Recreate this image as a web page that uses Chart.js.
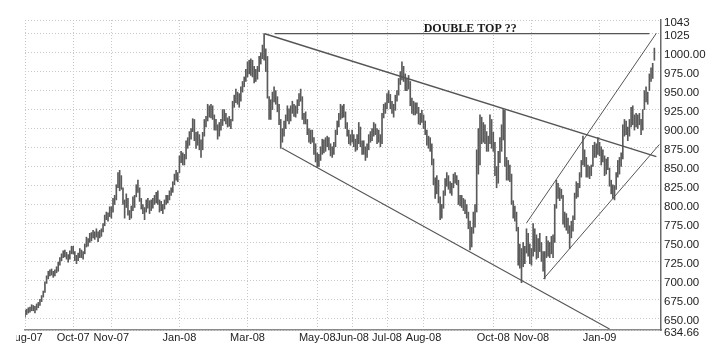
<!DOCTYPE html>
<html><head><meta charset="utf-8">
<script src="https://cdn.jsdelivr.net/npm/chart.js@4.4.1/dist/chart.umd.min.js"></script>
<style>html,body{margin:0;padding:0;background:#fff;overflow:hidden}</style>
</head><body>
<canvas id="c" width="720" height="358"></canvas>
<script>
// Daily highs / lows, one per trading day from Aug-20-2007 (index 0) to Feb-20-2009 (index 379)
const highs = [
661,662,664,665,668,667,666,669,671,675,
680,686,698,706,712,714,715,712,714,718,724,730,735,739,740,737,734,739,745,
745,738,733,736,742,740,738,748,757,755,762,763,766,764,768,764,766,768,775,786,790,789,797,
797,808,812,826,842,845,838,822,806,814,808,792,798,810,812,826,832,822,808,800,796,
806,808,805,806,808,812,816,818,806,804,800,806,812,812,818,822,830,840,845,842,
864,870,868,866,884,888,896,900,913,912,895,896,892,885,895,912,916,932,930,932,930,
918,912,905,908,912,925,925,920,914,916,912,936,944,952,948,946,955,962,968,978,
988,990,992,990,982,978,982,995,1000,1010,1025,1005,995,942,938,948,955,950,942,932,
912,900,910,918,930,926,930,936,932,930,938,946,952,942,920,922,912,900,898,898,888,880,
868,866,876,886,885,888,890,888,880,876,882,898,910,920,932,930,932,922,908,898,892,
898,892,886,892,908,902,884,884,876,880,892,896,900,908,906,900,898,892,920,932,934,
946,950,945,936,932,944,950,966,975,988,982,972,966,970,962,940,936,934,934,928,920,924,
918,910,898,890,888,880,860,835,838,832,810,800,818,834,842,838,830,828,840,842,838,
832,812,812,808,806,800,790,778,770,790,800,872,900,918,915,908,905,896,890,918,912,
895,882,850,870,888,905,925,924,862,858,852,840,805,798,790,770,748,742,750,745,768,762,748,
742,775,768,760,755,762,750,738,738,758,752,750,758,760,800,832,828,822,820,
812,790,788,782,772,778,785,815,830,828,842,858,890,872,862,852,850,852,878,882,880,888,
882,876,872,864,860,862,848,832,826,825,842,858,862,868,905,912,910,902,912,928,
930,918,920,918,920,912,925,950,955,948,972,980,986,1006
];
const lows = [
652,655,657,658,660,660,657,661,664,667,
672,678,684,696,702,706,707,704,706,710,712,720,726,730,731,728,724,728,735,
735,726,722,726,730,730,728,735,744,745,750,752,756,754,757,751,756,758,764,772,780,778,784,
782,790,800,806,822,818,820,800,782,796,786,780,782,792,796,810,816,804,794,788,780,
790,795,788,792,795,800,802,800,790,792,788,794,800,802,806,812,816,826,832,830,
842,855,852,852,860,874,878,886,896,884,874,878,872,862,872,890,902,910,915,914,912,
898,898,886,890,898,904,910,906,902,903,900,910,928,934,932,928,936,948,955,962,
968,972,970,968,960,962,965,975,985,992,990,975,940,912,912,925,935,932,922,905,
874,882,890,900,910,906,910,920,916,915,920,930,936,912,906,906,892,882,880,882,866,856,
849,850,858,866,868,870,876,872,864,862,866,876,892,902,912,914,915,900,890,880,878,
882,876,870,872,880,876,866,866,858,862,872,882,884,890,892,880,882,876,880,914,920,
926,934,926,920,915,924,936,944,958,964,962,950,950,952,930,920,918,918,920,906,905,908,
900,892,878,874,870,852,826,808,814,802,780,782,795,812,824,820,815,812,822,828,826,
800,798,796,792,788,782,768,740,744,762,770,790,840,852,880,882,880,870,870,880,874,
870,838,822,828,855,870,885,850,832,832,830,800,782,778,765,720,716,697,718,722,736,732,722,
720,732,738,728,730,738,725,712,702,730,732,730,735,730,750,795,808,805,808,
774,770,766,762,742,756,765,780,808,810,822,836,852,850,836,836,834,838,850,862,862,866,
864,852,856,838,840,846,824,814,808,806,820,836,840,850,860,890,892,884,890,902,
905,898,902,900,905,892,898,925,935,932,950,962,966,990
];

// Month gridlines: trading-day index and label
const xTickIdx = [0, 29, 52, 93, 134, 176, 197, 218, 240, 282, 305, 346];
const xTickLabels = ['Aug-07','Oct-07','Nov-07','Jan-08','Mar-08','May-08','Jun-08','Jul-08','Aug-08','Oct-08','Nov-08','Jan-09'];

// Price axis ticks
const yTickValues = [634.66,650,675,700,725,750,775,800,825,850,875,900,925,950,975,1000,1025,1043];
const yTickLabels = ['634.66','650.00','675.00','700.00','725.00','750.00','775.00','800.00','825.00','850.00','875.00','900.00','925.00','950.00','975.00','1000.00','1025','1043'];

// Hand-drawn trend lines (trading-day index, price)
const lineDoubleTop    = [[150.4, 1025], [376, 1025]];
const lineUpperDesc    = [[144.4, 1025], [380.2, 863]];
const lineLowerDesc    = [[154.6, 874.4], [352, 636]];
const lineChannelTop   = [[302, 775.6], [380.2, 1025.5]];
const lineChannelBot   = [[312.2, 701.8], [382, 879]];

const chartTitle = 'DOUBLE TOP ??';

const FONT = 'Liberation Sans, Arial, sans-serif';

const trendSets = [
  {pts: lineDoubleTop, w: 1.4},
  {pts: lineUpperDesc, w: 1.5},
  {pts: lineLowerDesc, w: 1.1},
  {pts: lineChannelTop, w: 1},
  {pts: lineChannelBot, w: 1}
];

const deco = {
  id: 'deco',
  afterDraw(chart) {
    const {ctx, chartArea} = chart;
    ctx.save();
    // clip of the first month label at the canvas edge, as in the source
    ctx.fillStyle = '#fff';
    ctx.fillRect(0, chartArea.bottom + 1, 16, 27);
    ctx.fillStyle = '#1a1a1a';
    ctx.font = 'bold 12px "Liberation Serif", "Times New Roman", serif';
    ctx.textAlign = 'center';
    ctx.textBaseline = 'alphabetic';
    const x = chartArea.left + (chartArea.right - chartArea.left) * 0.70;
    ctx.fillText(chartTitle, x, chartArea.top + 12);
    ctx.restore();
  }
};

new Chart(document.getElementById('c').getContext('2d'), {
  type: 'bar',
  data: {
    datasets: [
      {
        type: 'bar',
        data: highs.map((h, i) => ({x: i, y: [lows[i], h]})),
        backgroundColor: '#5a5a5a',
        barThickness: 1,
        grouped: false,
        order: 2
      },
      ...trendSets.map(t => ({
        type: 'line',
        data: t.pts.map(p => ({x: p[0], y: p[1]})),
        borderColor: '#555555',
        borderWidth: t.w,
        pointRadius: 0,
        fill: false,
        tension: 0,
        order: 1
      }))
    ]
  },
  options: {
    responsive: false,
    animation: false,
    layout: {padding: {left: 25, top: 20, right: 0, bottom: 0}},
    plugins: {legend: {display: false}, tooltip: {enabled: false}, title: {display: false}},
    scales: {
      x: {
        type: 'linear', min: 0, max: 383, offset: false,
        afterBuildTicks: s => { s.ticks = xTickIdx.map(v => ({value: v})); },
        afterFit: s => { s.height = 28; },
        ticks: {autoSkip: false, maxRotation: 0, minRotation: 0, padding: 1, color: '#222',
                font: {family: FONT, size: 11}, callback: (v, i) => xTickLabels[i]},
        grid: {color: '#c8c8c8', lineWidth: 1, drawTicks: false, offset: false},
        border: {display: true, color: '#8a8a8a', width: 1.5, dash: [1, 2]}
      },
      y: {
        position: 'right', min: 634.66, max: 1043, beginAtZero: false,
        afterBuildTicks: s => { s.ticks = yTickValues.map(v => ({value: v})); },
        afterFit: s => { s.width = 59; },
        ticks: {autoSkip: false, padding: 3, labelOffset: 2.5, color: '#222',
                font: {family: FONT, size: 11.5}, callback: (v, i) => yTickLabels[i]},
        grid: {color: '#c8c8c8', lineWidth: 1, drawTicks: false},
        border: {display: true, color: '#6a6a6a', width: 1.5, dash: [1, 2]}
      }
    }
  },
  plugins: [deco]
});
</script>
</body></html>
